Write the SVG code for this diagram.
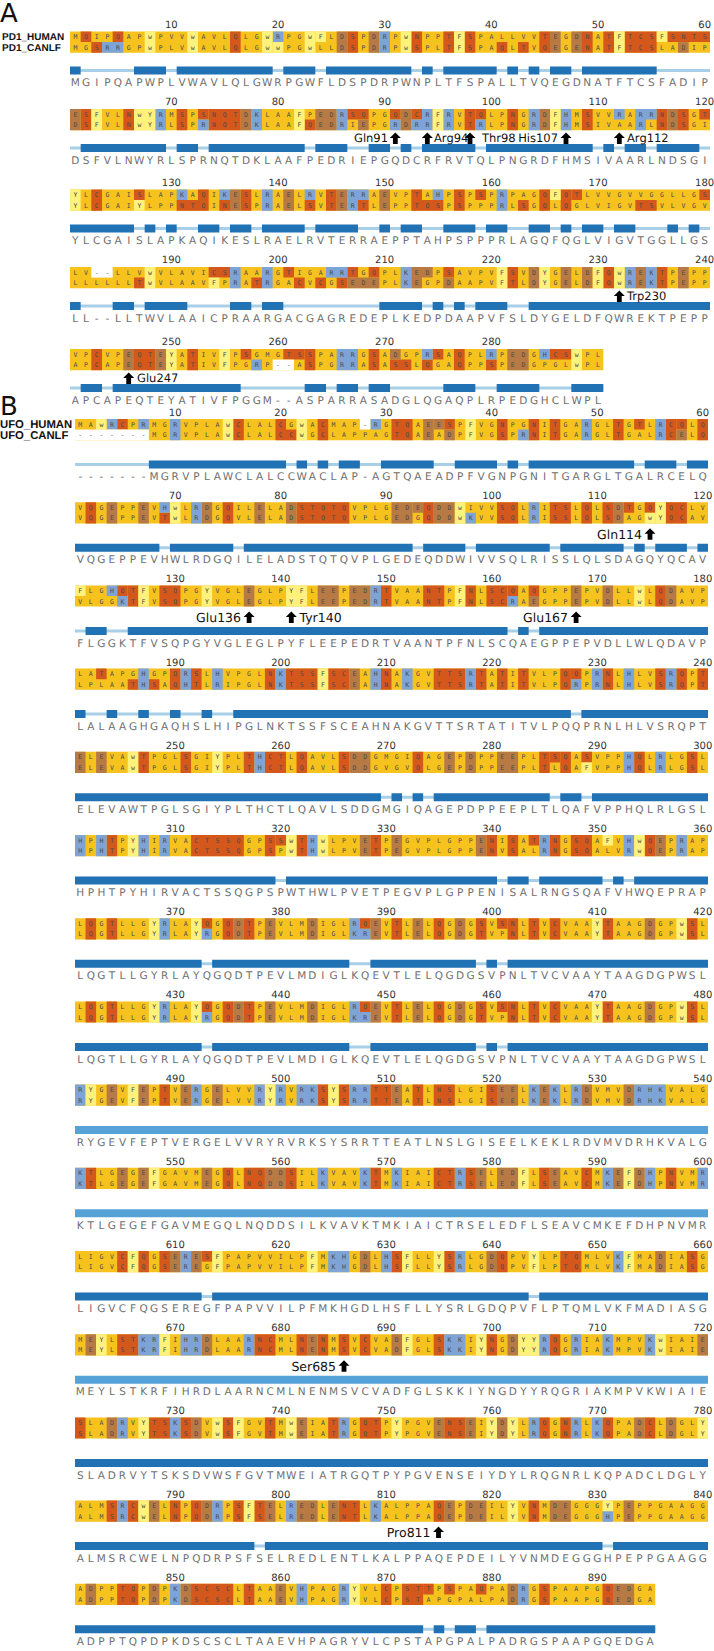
<svg xmlns="http://www.w3.org/2000/svg" xmlns:xlink="http://www.w3.org/1999/xlink" width="714" height="1651" viewBox="0 0 714 1651">
<style>
text{text-rendering:geometricPrecision}
.n{font:10px "DejaVu Sans",sans-serif;fill:#333;text-anchor:middle}
.sa{font:6.5px "DejaVu Sans Mono",monospace;fill:#4a4a4a;letter-spacing:6.7534px}
.sb{font:6.5px "DejaVu Sans Mono",monospace;fill:#4a4a4a;letter-spacing:6.6367px}
.c{font:10.5px "DejaVu Sans",sans-serif;fill:#707070;text-anchor:middle}
.nm{font:bold 10px "Liberation Sans",sans-serif;fill:#111}
.nmb{font:bold 11.3px "Liberation Sans",sans-serif;fill:#111}
.lb{font:11.5px "DejaVu Sans",sans-serif;fill:#111}
.lbb{font:12.5px "DejaVu Sans",sans-serif;fill:#111}
.e{text-anchor:end}
.big{font:26px "DejaVu Sans",sans-serif;fill:#111}
.r path{stroke-width:10.6}
.r .d{stroke-width:21.2}
.g{stroke:#F6C31E}.y{stroke:#FFF27C}.o{stroke:#D4581C}.b{stroke:#B77A45}.u{stroke:#7EA3D6}.w{stroke:#fff}
.lt{stroke:#A8CFE8;stroke-width:3}
.dk{stroke:#2171B5;stroke-width:8}
.md{stroke:#55A2D8;stroke-width:8}
.ar{fill:#000}
</style>
<defs><path id="ar" class="ar" d="M0 0L5.5 5.5H2.4V11.5H-2.4V5.5H-5.5Z"/></defs>
<rect width="714" height="1651" fill="#fff"/>
<text class="big" x="0" y="22">A</text>
<text class="big" x="0" y="415">B</text>

<g id="A1" transform="translate(70,31.5)">
<text class="nm" x="-68" y="8.9">PD1_HUMAN</text><text class="nm" x="-68" y="19.5">PD1_CANLF</text>
<g class="r" transform="scale(10.6667,1)">
<path class="g d" d="M0 10.6h60"/>
<path class="o d" d="M15 10.6h1M26 10.6h1M32 10.6h1M35 10.6h1M37 10.6h1M44 10.6h1M48 10.6h1M50 10.6h1M52 10.6h3"/>
<path class="o" d="M1 5.3h1M4 5.3h1M56 5.3h4M2 15.9h1M40 15.9h1M42 15.9h1"/>
<path class="b d" d="M25 10.6h1M28 10.6h1M45 10.6h1M47 10.6h1"/><path class="b" d="M57 15.9h1"/>
<path class="u" d="M19 5.3h1M3 15.9h2"/><path class="u d" d="M29 10.6h1"/>
<path class="y d" d="M7 10.6h1M11 10.6h1M18 10.6h1M22 10.6h1M31 10.6h1M36 10.6h1M51 10.6h1"/><path class="y" d="M23 5.3h1M55 5.3h1M19 15.9h1"/>
</g>
<g transform="scale(10.6667,1)"><path class="lt" d="M0 39h60"/><path class="dk" d="M0 39h1M6 39h3M10 39h9M20 39h3M24 39h8M33 39h1M35 39h5M41 39h1M43 39h1M45 39h2M48 39h7"/></g>
<text class="sa" x="3.377" y="7.7">MQIPQAPwPVVwAVLQLGwRPGwFLDSPDRPwNPPTFSPALLVVTEGDNATFTCSFSNTS</text>
<text class="sa" x="3.377" y="18.3">MGSRRGPwPLVwAVLQLGwwPGwLLDSPDRPwSPLTFSPAQLTVQEGENATFTCSLADIP</text>
<text class="c" x="5.3 16 26.7 37.3 48 58.7 69.3 80 90.7 101.3 112 122.7 133.3 144 154.7 165.3 176 186.7 197.3 208 218.7 229.3 240 250.7 261.3 272 282.7 293.3 304 314.7 325.3 336 346.7 357.3 368 378.7 389.3 400 410.7 421.3 432 442.7 453.3 464 474.7 485.3 496 506.7 517.3 528 538.7 549.3 560 570.7 581.3 592 602.7 613.3 624 634.7" y="54.8">MGIPQAPWPLVWAVLQLGWRPGWFLDSPDRPWNPLTFSPALLTVQEGDNATFTCSFADIP</text>
<text class="n" y="-3.8"><tspan x="101.33">10</tspan><tspan x="208">20</tspan><tspan x="314.67">30</tspan><tspan x="421.33">40</tspan><tspan x="528">50</tspan><tspan x="634.67">60</tspan></text>
</g>

<g id="A2" transform="translate(70,109)">
<g class="r" transform="scale(10.6667,1)">
<path class="g d" d="M0 10.6h60"/>
<path class="o d" d="M1 10.6h1M5 10.6h1M10 10.6h1M13 10.6h3M37 10.6h1M41 10.6h1M48 10.6h1M55 10.6h1M57 10.6h1"/>
<path class="o" d="M12 5.3h1M26 5.3h2M30 5.3h1M32 5.3h1M38 5.3h1M59 5.3h1M22 15.9h1"/>
<path class="b d" d="M0 10.6h1M16 10.6h1M23 10.6h2M31 10.6h1M44 10.6h1M56 10.6h1"/><path class="b" d="M27 15.9h1"/>
<path class="u d" d="M8 10.6h1M17 10.6h1M25 10.6h1M33 10.6h1M35 10.6h1M43 10.6h1M46 10.6h1M53 10.6h1"/>
<path class="u" d="M51 5.3h1M54 5.3h1M12 15.9h1M30 15.9h1M32 15.9h1M38 15.9h1"/>
<path class="y d" d="M2 10.6h1M6 10.6h2M21 10.6h1M34 10.6h1M45 10.6h1"/>
</g>
<g transform="scale(10.6667,1)"><path class="lt" d="M0 39h60"/><path class="dk" d="M1 39h8M10 39h2M13 39h9M23 39h3M28 39h2M31 39h1M33 39h5M39 39h10M50 39h1M52 39h2M55 39h4"/></g>
<text class="sa" x="3.377" y="7.7">ESFVLNwYRMSPSNQTDKLAAFPEDRSQPGQDCRFRVTQLPNGRDFHMSVVRARRNDSGT</text>
<text class="sa" x="3.377" y="18.3">DSFVLNwYRLSPRNQTDKLAAFQEDRIEPGRDRRFRVTRLPNGRDFHMSIVAARLNDSGI</text>
<text class="c" x="5.3 16 26.7 37.3 48 58.7 69.3 80 90.7 101.3 112 122.7 133.3 144 154.7 165.3 176 186.7 197.3 208 218.7 229.3 240 250.7 261.3 272 282.7 293.3 304 314.7 325.3 336 346.7 357.3 368 378.7 389.3 400 410.7 421.3 432 442.7 453.3 464 474.7 485.3 496 506.7 517.3 528 538.7 549.3 560 570.7 581.3 592 602.7 613.3 624 634.7" y="54.8">DSFVLNWYRLSPRNQTDKLAAFPEDRIEPGQDCRFRVTQLPNGRDFHMSIVAARLNDSGI</text>
<text class="n" y="-3.8"><tspan x="101.33">70</tspan><tspan x="208">80</tspan><tspan x="314.67">90</tspan><tspan x="421.33">100</tspan><tspan x="528">110</tspan><tspan x="634.67">120</tspan></text>
</g>

<g id="A3" transform="translate(70,189.5)">
<g class="r" transform="scale(10.6667,1)">
<path class="g d" d="M0 10.6h60"/>
<path class="o d" d="M2 10.6h1M12 10.6h1M16 10.6h1M24 10.6h1M32 10.6h1M36 10.6h1M44 10.6h1M46 10.6h1"/>
<path class="o" d="M6 5.3h1M38 5.3h1M47 5.3h1M59 5.3h1M10 15.9h2M14 15.9h1M22 15.9h1M27 15.9h1M33 15.9h2M42 15.9h1M53 15.9h2"/>
<path class="b d" d="M15 10.6h1M20 10.6h1M25 10.6h1M29 10.6h1"/>
<path class="u d" d="M18 10.6h1M26 10.6h1M40 10.6h1"/><path class="u" d="M10 5.3h1M14 5.3h1M22 5.3h1M27 5.3h1M34 5.3h1"/>
<path class="y d" d="M0 10.6h1"/><path class="y" d="M45 5.3h1M6 15.9h1"/>
</g>
<g transform="scale(10.6667,1)"><path class="lt" d="M0 39h60"/><path class="dk" d="M0 39h6M7 39h1M9 39h1M12 39h2M15 39h2M18 39h4M23 39h4M29 39h1M31 39h2M35 39h3M39 39h2M43 39h2M46 39h1M48 39h2M51 39h2M56 39h1M58 39h1"/></g>
<text class="sa" x="3.377" y="7.7">YLCGAISLAPKAQIKESLRAELRVTERRAEVPTAHPSPSPRPAGQFQTLVVGVVGGLLGS</text>
<text class="sa" x="3.377" y="18.3">YLCGAIYLPPNTQINESPRAELSVTERTLEPPTQSPSPPPRLSGQLQGLVIGVTSVLVGV</text>
<text class="c" x="5.3 16 26.7 37.3 48 58.7 69.3 80 90.7 101.3 112 122.7 133.3 144 154.7 165.3 176 186.7 197.3 208 218.7 229.3 240 250.7 261.3 272 282.7 293.3 304 314.7 325.3 336 346.7 357.3 368 378.7 389.3 400 410.7 421.3 432 442.7 453.3 464 474.7 485.3 496 506.7 517.3 528 538.7 549.3 560 570.7 581.3 592 602.7 613.3 624 634.7" y="54.8">YLCGAISLAPKAQIKESLRAELRVTERRAEPPTAHPSPPPRLAGQFQGLVIGVTGGLLGS</text>
<text class="n" y="-3.8"><tspan x="101.33">130</tspan><tspan x="208">140</tspan><tspan x="314.67">150</tspan><tspan x="421.33">160</tspan><tspan x="528">170</tspan><tspan x="634.67">180</tspan></text>
</g>

<g id="A4" transform="translate(70,267)">
<g class="r" transform="scale(10.6667,1)">
<path class="g d" d="M0 10.6h60"/>
<path class="o d" d="M41 10.6h1M50 10.6h1M55 10.6h1"/>
<path class="o" d="M13 5.3h2M20 5.3h1M26 5.3h1M28 5.3h1M35 5.3h1M6 15.9h1M17 15.9h1M21 15.9h1M23 15.9h1M25 15.9h1"/>
<path class="b d" d="M32 10.6h1M43 10.6h1M46 10.6h1M48 10.6h1M53 10.6h1M57 10.6h1"/><path class="b" d="M33 5.3h1M26 15.9h3M35 15.9h1"/>
<path class="u d" d="M15 10.6h1M18 10.6h1M31 10.6h1M52 10.6h1M54 10.6h1"/><path class="u" d="M24 5.3h2"/>
<path class="y d" d="M7 10.6h1M40 10.6h1M44 10.6h1M49 10.6h1M51 10.6h1"/><path class="y" d="M13 15.9h1"/>
<path class="w" d="M2 5.3h2"/>
</g>
<g transform="scale(10.6667,1)"><path class="lt" d="M0 39h60"/><path class="dk" d="M0 39h1M4 39h2M7 39h4M15 39h2M18 39h2M29 39h4M34 39h1M36 39h1M38 39h3M43 39h17"/></g>
<text class="sa" x="3.377" y="7.7">LV--LLVwVLAVICSRAARGTIGARRTGQPLKEDPSAVPVFSVDYGELDFQwREKTPEPP</text>
<text class="sa" x="3.377" y="18.3">LLLLLLTwVLAAVFPRATRGACVCGSEDEPLKEGPDAAPVFTLDYGELDFQwREKTPEPP</text>
<text class="c" x="5.3 16 26.7 37.3 48 58.7 69.3 80 90.7 101.3 112 122.7 133.3 144 154.7 165.3 176 186.7 197.3 208 218.7 229.3 240 250.7 261.3 272 282.7 293.3 304 314.7 325.3 336 346.7 357.3 368 378.7 389.3 400 410.7 421.3 432 442.7 453.3 464 474.7 485.3 496 506.7 517.3 528 538.7 549.3 560 570.7 581.3 592 602.7 613.3 624 634.7" y="54.8">LL--LLTWVLAAICPRAARGACGAGREDEPLKEDPDAAPVFSLDYGELDFQWREKTPEPP</text>
<text class="n" y="-3.8"><tspan x="101.33">190</tspan><tspan x="208">200</tspan><tspan x="314.67">210</tspan><tspan x="421.33">220</tspan><tspan x="528">230</tspan><tspan x="634.67">240</tspan></text>
</g>

<g id="A5" transform="translate(70,349)">
<g class="r" transform="scale(10.6667,1)">
<path class="g d" d="M0 10.6h50"/>
<path class="o d" d="M2 10.6h1M6 10.6h2M11 10.6h1M22 10.6h1M28 10.6h1M36 10.6h1"/>
<path class="o" d="M16 5.3h1M20 5.3h2M34 5.3h1M45 5.3h2M30 15.9h2M33 15.9h1M39 15.9h1"/>
<path class="b d" d="M5 10.6h1M8 10.6h1M41 10.6h2"/><path class="b" d="M30 5.3h1"/>
<path class="u d" d="M25 10.6h2"/><path class="u" d="M33 5.3h1M39 5.3h1M44 5.3h1M17 15.9h1"/>
<path class="y d" d="M9 10.6h1M14 10.6h1M47 10.6h1"/>
<path class="w" d="M19 15.9h2"/>
</g>
<g transform="scale(10.6667,1)"><path class="lt" d="M0 39h50"/><path class="dk" d="M1 39h2M4 39h12M22 39h2M25 39h2M28 39h2M35 39h3M40 39h4M47 39h3"/></g>
<text class="sa" x="3.377" y="7.7">VPCVPEQTEYATIVFPSGMGTSSPARRGSADGPRSAQPLRPEDGHCSwPL</text>
<text class="sa" x="3.377" y="18.3">APCAPEQTEYATIVFPGRP--ASPGRRASASSLQGAQPPSPEDGPGLwPL</text>
<text class="c" x="5.3 16 26.7 37.3 48 58.7 69.3 80 90.7 101.3 112 122.7 133.3 144 154.7 165.3 176 186.7 197.3 208 218.7 229.3 240 250.7 261.3 272 282.7 293.3 304 314.7 325.3 336 346.7 357.3 368 378.7 389.3 400 410.7 421.3 432 442.7 453.3 464 474.7 485.3 496 506.7 517.3 528" y="54.8">APCAPEQTEYATIVFPGGM--ASPARRASADGLQGAQPLRPEDGHCLWPL</text>
<text class="n" y="-3.8"><tspan x="101.33">250</tspan><tspan x="208">260</tspan><tspan x="314.67">270</tspan><tspan x="421.33">280</tspan></text>
</g>

<g id="B1" transform="translate(75,419)">
<text class="nmb" x="-75" y="9.3">UFO_HUMAN</text><text class="nmb" x="-75" y="19.9">UFO_CANLF</text>
<g class="r" transform="scale(10.55,1)">
<path class="g d" d="M0 10.6h60"/>
<path class="o d" d="M15 10.6h1M19 10.6h1M23 10.6h1M30 10.6h2M40 10.6h1M43 10.6h1M45 10.6h1M51 10.6h1M56 10.6h1M59 10.6h1"/>
<path class="o" d="M4 5.3h1M35 5.3h1M53 5.3h1M57 5.3h1M20 15.9h1"/>
<path class="b d" d="M33 10.6h1"/><path class="b" d="M34 5.3h1M35 15.9h1M57 15.9h1"/>
<path class="u d" d="M9 10.6h1M48 10.6h1M55 10.6h1"/><path class="u" d="M3 5.3h1M6 5.3h1M28 5.3h1M42 15.9h1"/>
<path class="y d" d="M14 10.6h1M21 10.6h1M37 10.6h1"/><path class="y" d="M2 5.3h1"/>
<path class="w" d="M27 5.3h1M0 15.9h7"/>
</g>
<g transform="scale(10.55,1)"><path class="lt" d="M0 45.5h60"/><path class="dk" d="M7 45.5h13M21 45.5h1M23 45.5h1M25 45.5h2M29 45.5h5M36 45.5h4M41 45.5h1M43 45.5h10M54 45.5h3M58 45.5h2"/></g>
<text class="sb" x="3.318" y="7.7">MAwRCPRMGRVPLAwCLALCGwACMAP-RGTQAEESPFVGNPGNITGARGLTGTLRCQLQ</text>
<text class="sb" x="3.318" y="18.3">-------MGRVPLAwCLALCCwGCLAPPAGTQAEADPFVGSPRNITGARGLTGALRCELQ</text>
<text class="c" x="5.3 15.8 26.4 36.9 47.5 58 68.6 79.1 89.7 100.2 110.8 121.3 131.9 142.4 153 163.5 174.1 184.6 195.2 205.7 216.3 226.8 237.4 247.9 258.5 269 279.6 290.1 300.7 311.2 321.8 332.3 342.9 353.4 364 374.5 385.1 395.6 406.2 416.7 427.3 437.8 448.4 458.9 469.5 480 490.6 501.1 511.7 522.2 532.8 543.3 553.9 564.4 575 585.5 596.1 606.6 617.2 627.7" y="61.3">-------MGRVPLAWCLALCCWACLAP-AGTQAEADPFVGNPGNITGARGLTGALRCELQ</text>
<text class="n" y="-3"><tspan x="100.23">10</tspan><tspan x="205.73">20</tspan><tspan x="311.23">30</tspan><tspan x="416.73">40</tspan><tspan x="522.23">50</tspan><tspan x="627.73">60</tspan></text>
</g>

<g id="B2" transform="translate(75,502.2)">
<g class="r" transform="scale(10.55,1)">
<path class="g d" d="M0 10.6h60"/>
<path class="o d" d="M1 10.6h1M14 10.6h1M21 10.6h5M33 10.6h1M40 10.6h2M45 10.6h2M48 10.6h1M50 10.6h1M56 10.6h2"/>
<path class="o" d="M52 5.3h1M54 5.3h1M8 15.9h1"/>
<path class="b d" d="M3 10.6h1M6 10.6h1M12 10.6h1M17 10.6h1M20 10.6h1M30 10.6h2M34 10.6h2M51 10.6h1"/><path class="b" d="M32 5.3h1"/>
<path class="u d" d="M11 10.6h1M43 10.6h1"/><path class="u" d="M8 5.3h1M37 15.9h1"/>
<path class="y d" d="M9 10.6h1M36 10.6h1M55 10.6h1"/><path class="y" d="M54 15.9h1"/>
</g>
<g transform="scale(10.55,1)"><path class="lt" d="M0 45.5h60"/><path class="dk" d="M0 45.5h8M9 45.5h6M16 45.5h16M33 45.5h4M38 45.5h7M46 45.5h6M53 45.5h1M55 45.5h3M59 45.5h1"/></g>
<text class="sb" x="3.318" y="7.7">VQGEPPEVHwLRDGQILELADSTQTQVPLGEDEQDDwIVVSQLRITSLQLSDTGQYQCLV</text>
<text class="sb" x="3.318" y="18.3">VQGEPPEVTwLRDGQVLELADSTQTQVPLGEDGQDDwKVVSQLRISSLQLSDAGwYQCAV</text>
<text class="c" x="5.3 15.8 26.4 36.9 47.5 58 68.6 79.1 89.7 100.2 110.8 121.3 131.9 142.4 153 163.5 174.1 184.6 195.2 205.7 216.3 226.8 237.4 247.9 258.5 269 279.6 290.1 300.7 311.2 321.8 332.3 342.9 353.4 364 374.5 385.1 395.6 406.2 416.7 427.3 437.8 448.4 458.9 469.5 480 490.6 501.1 511.7 522.2 532.8 543.3 553.9 564.4 575 585.5 596.1 606.6 617.2 627.7" y="61.3">VQGEPPEVHWLRDGQILELADSTQTQVPLGEDEQDDWIVVSQLRISSLQLSDAGQYQCAV</text>
<text class="n" y="-3"><tspan x="100.23">70</tspan><tspan x="205.73">80</tspan><tspan x="311.23">90</tspan><tspan x="416.73">100</tspan><tspan x="522.23">110</tspan><tspan x="627.73">120</tspan></text>
</g>

<g id="B3" transform="translate(75,585.4)">
<g class="r" transform="scale(10.55,1)">
<path class="g d" d="M0 10.6h60"/>
<path class="o d" d="M5 10.6h1M8 10.6h2M29 10.6h1M33 10.6h2M37 10.6h1M39 10.6h2M55 10.6h1"/>
<path class="o" d="M4 5.3h1M41 5.3h1M43 5.3h1"/>
<path class="b d" d="M16 10.6h1M23 10.6h2M26 10.6h2M47 10.6h1M50 10.6h1M56 10.6h1"/><path class="b" d="M43 15.9h1"/>
<path class="u d" d="M28 10.6h1"/><path class="u" d="M3 5.3h1M4 15.9h1M41 15.9h1"/>
<path class="y d" d="M6 10.6h1M12 10.6h1M20 10.6h2M36 10.6h1M53 10.6h1"/><path class="y" d="M0 5.3h1"/>
</g>
<g transform="scale(10.55,1)"><path class="lt" d="M0 45.5h60"/><path class="dk" d="M1 45.5h2M5 45.5h36M42 45.5h1M44 45.5h16"/></g>
<text class="sb" x="3.318" y="7.7">FLGHQTFVSQPGYVGLEGLPYFLEEPEDRTVAANTPFNLSCQAQGPPEPVDLLwLQDAVP</text>
<text class="sb" x="3.318" y="18.3">VLGGKTFVSQPGYVGLEGLPYFLEEPEDRTVAANTPFNLSCRAEGPPEPVDLLwLQDAVP</text>
<text class="c" x="5.3 15.8 26.4 36.9 47.5 58 68.6 79.1 89.7 100.2 110.8 121.3 131.9 142.4 153 163.5 174.1 184.6 195.2 205.7 216.3 226.8 237.4 247.9 258.5 269 279.6 290.1 300.7 311.2 321.8 332.3 342.9 353.4 364 374.5 385.1 395.6 406.2 416.7 427.3 437.8 448.4 458.9 469.5 480 490.6 501.1 511.7 522.2 532.8 543.3 553.9 564.4 575 585.5 596.1 606.6 617.2 627.7" y="61.3">FLGGKTFVSQPGYVGLEGLPYFLEEPEDRTVAANTPFNLSCQAEGPPEPVDLLWLQDAVP</text>
<text class="n" y="-3"><tspan x="100.23">130</tspan><tspan x="205.73">140</tspan><tspan x="311.23">150</tspan><tspan x="416.73">160</tspan><tspan x="522.23">170</tspan><tspan x="627.73">180</tspan></text>
</g>

<g id="B4" transform="translate(75,668.6)">
<g class="r" transform="scale(10.55,1)">
<path class="g d" d="M0 10.6h60"/>
<path class="o d" d="M9 10.6h1M11 10.6h1M18 10.6h1M20 10.6h3M24 10.6h2M29 10.6h1M34 10.6h3M38 10.6h1M40 10.6h1M42 10.6h1M46 10.6h1M50 10.6h1M55 10.6h1M57 10.6h1M59 10.6h1"/>
<path class="o" d="M2 5.3h1M47 5.3h1M5 15.9h1M7 15.9h1"/>
<path class="b d" d="M26 10.6h1"/>
<path class="u d" d="M6 10.6h1M10 10.6h1M13 10.6h1M19 10.6h1M28 10.6h1M31 10.6h1M37 10.6h1M49 10.6h1M52 10.6h1M56 10.6h1"/><path class="u" d="M47 15.9h1"/>
<path class="y d" d="M23 10.6h1"/>
</g>
<g transform="scale(10.55,1)"><path class="lt" d="M0 45.5h60"/><path class="dk" d="M0 45.5h1M3 45.5h1M6 45.5h1M9 45.5h1M12 45.5h1M15 45.5h32M48 45.5h12"/></g>
<text class="sb" x="3.318" y="7.7">LATAPGHGPQRSLHVPGLNKTSSFSCEAHNAKGVTTSRTATITVLPQQPRNLHLVSRQPT</text>
<text class="sb" x="3.318" y="18.3">LPLAATHSAQHTLRIPGLNKTSSFSCEAHNAKGVTTSRTATITVLPQRPRNLHLVSRQPT</text>
<text class="c" x="5.3 15.8 26.4 36.9 47.5 58 68.6 79.1 89.7 100.2 110.8 121.3 131.9 142.4 153 163.5 174.1 184.6 195.2 205.7 216.3 226.8 237.4 247.9 258.5 269 279.6 290.1 300.7 311.2 321.8 332.3 342.9 353.4 364 374.5 385.1 395.6 406.2 416.7 427.3 437.8 448.4 458.9 469.5 480 490.6 501.1 511.7 522.2 532.8 543.3 553.9 564.4 575 585.5 596.1 606.6 617.2 627.7" y="61.3">LALAAGHGAQHSLHIPGLNKTSSFSCEAHNAKGVTTSRTATITVLPQQPRNLHLVSRQPT</text>
<text class="n" y="-3"><tspan x="100.23">190</tspan><tspan x="205.73">200</tspan><tspan x="311.23">210</tspan><tspan x="416.73">220</tspan><tspan x="522.23">230</tspan><tspan x="627.73">240</tspan></text>
</g>

<g id="B5" transform="translate(75,751.8)">
<g class="r" transform="scale(10.55,1)">
<path class="g d" d="M0 10.6h60"/>
<path class="o d" d="M6 10.6h1M10 10.6h1M16 10.6h1M18 10.6h2M21 10.6h1M25 10.6h1M32 10.6h1M44 10.6h1M46 10.6h1M53 10.6h1M58 10.6h1"/>
<path class="o" d="M45 5.3h1M48 5.3h1"/>
<path class="b d" d="M0 10.6h1M2 10.6h1M26 10.6h2M35 10.6h1M37 10.6h1M40 10.6h2"/>
<path class="u d" d="M17 10.6h1M52 10.6h1M55 10.6h1"/>
<path class="y d" d="M5 10.6h1M13 10.6h1"/><path class="y" d="M48 15.9h1"/>
</g>
<g transform="scale(10.55,1)"><path class="lt" d="M0 45.5h60"/><path class="dk" d="M0 45.5h29M30 45.5h1M32 45.5h1M34 45.5h11M46 45.5h2M49 45.5h11"/></g>
<text class="sb" x="3.318" y="7.7">ELEVAwTPGLSGIYPLTHCTLQAVLSDDGMGIQAGEPDPPEEPLTSQASVPPHQLRLGSL</text>
<text class="sb" x="3.318" y="18.3">ELEVAwTPGLSGIYPLTHCTLQAVLSDDGVGVQLGEPDPPEEPLTLQAFVPPHQLRLGSL</text>
<text class="c" x="5.3 15.8 26.4 36.9 47.5 58 68.6 79.1 89.7 100.2 110.8 121.3 131.9 142.4 153 163.5 174.1 184.6 195.2 205.7 216.3 226.8 237.4 247.9 258.5 269 279.6 290.1 300.7 311.2 321.8 332.3 342.9 353.4 364 374.5 385.1 395.6 406.2 416.7 427.3 437.8 448.4 458.9 469.5 480 490.6 501.1 511.7 522.2 532.8 543.3 553.9 564.4 575 585.5 596.1 606.6 617.2 627.7" y="61.3">ELEVAWTPGLSGIYPLTHCTLQAVLSDDGMGIQAGEPDPPEEPLTLQAFVPPHQLRLGSL</text>
<text class="n" y="-3"><tspan x="100.23">250</tspan><tspan x="205.73">260</tspan><tspan x="311.23">270</tspan><tspan x="416.73">280</tspan><tspan x="522.23">290</tspan><tspan x="627.73">300</tspan></text>
</g>

<g id="B6" transform="translate(75,835)">
<g class="r" transform="scale(10.55,1)">
<path class="g d" d="M0 10.6h60"/>
<path class="o d" d="M3 10.6h1M11 10.6h5M18 10.6h1M21 10.6h1M28 10.6h1M39 10.6h1M41 10.6h1M45 10.6h1M47 10.6h2M54 10.6h1"/>
<path class="o" d="M19 5.3h1M43 5.3h1"/>
<path class="b d" d="M27 10.6h1M30 10.6h1M38 10.6h1M55 10.6h1"/>
<path class="u d" d="M0 10.6h1M2 10.6h1M6 10.6h1M8 10.6h1M22 10.6h1M44 10.6h1M52 10.6h1M57 10.6h1"/>
<path class="y d" d="M5 10.6h1M20 10.6h1M23 10.6h1M53 10.6h1"/><path class="y" d="M50 5.3h1"/>
</g>
<g transform="scale(10.55,1)"><path class="lt" d="M0 45.5h60"/><path class="dk" d="M0 45.5h19M20 45.5h20M41 45.5h2M44 45.5h6M51 45.5h1M53 45.5h7"/></g>
<text class="sb" x="3.318" y="7.7">HPHTPYHIRVACTSSQGPSSwTHwLPVETPEGVPLGPPENISATRNGSQAFVHwQEPRAP</text>
<text class="sb" x="3.318" y="18.3">HPHTPYHIRVACTSSQGPSPwTHwLPVETPEGVPLGPPENVSALRNGSQALVRwQEPRAP</text>
<text class="c" x="5.3 15.8 26.4 36.9 47.5 58 68.6 79.1 89.7 100.2 110.8 121.3 131.9 142.4 153 163.5 174.1 184.6 195.2 205.7 216.3 226.8 237.4 247.9 258.5 269 279.6 290.1 300.7 311.2 321.8 332.3 342.9 353.4 364 374.5 385.1 395.6 406.2 416.7 427.3 437.8 448.4 458.9 469.5 480 490.6 501.1 511.7 522.2 532.8 543.3 553.9 564.4 575 585.5 596.1 606.6 617.2 627.7" y="61.3">HPHTPYHIRVACTSSQGPSPWTHWLPVETPEGVPLGPPENISALRNGSQAFVHWQEPRAP</text>
<text class="n" y="-3"><tspan x="100.23">310</tspan><tspan x="205.73">320</tspan><tspan x="311.23">330</tspan><tspan x="416.73">340</tspan><tspan x="522.23">350</tspan><tspan x="627.73">360</tspan></text>
</g>

<g id="B7" transform="translate(75,918.2)">
<g class="r" transform="scale(10.55,1)">
<path class="g d" d="M0 10.6h60"/>
<path class="o d" d="M1 10.6h1M3 10.6h1M14 10.6h1M16 10.6h1M30 10.6h1M34 10.6h1M38 10.6h1M41 10.6h1M43 10.6h1M45 10.6h1M50 10.6h1M58 10.6h1"/>
<path class="o" d="M12 5.3h1M27 5.3h1M40 5.3h1"/>
<path class="b d" d="M15 10.6h1M18 10.6h1M22 10.6h1M28 10.6h1M32 10.6h1M36 10.6h1M54 10.6h1"/>
<path class="u d" d="M8 10.6h1M26 10.6h1"/><path class="u" d="M12 15.9h1M27 15.9h1"/>
<path class="y d" d="M7 10.6h1M11 10.6h1M49 10.6h1M57 10.6h1"/>
</g>
<g transform="scale(10.55,1)"><path class="lt" d="M0 45.5h60"/><path class="dk" d="M0 45.5h12M13 45.5h13M28 45.5h10M39 45.5h1M41 45.5h19"/></g>
<text class="sb" x="3.318" y="7.7">LQGTLLGYRLAYQGQDTPEVLMDIGLRQEVTLELQGDGSVSNLTVCVAAYTAAGDGPwSL</text>
<text class="sb" x="3.318" y="18.3">LQGTLLGYRLAYRGQDTPEVLMDIGLKREVTLELQGDGTVPNLTVCVAAYTAAGDGPwSL</text>
<text class="c" x="5.3 15.8 26.4 36.9 47.5 58 68.6 79.1 89.7 100.2 110.8 121.3 131.9 142.4 153 163.5 174.1 184.6 195.2 205.7 216.3 226.8 237.4 247.9 258.5 269 279.6 290.1 300.7 311.2 321.8 332.3 342.9 353.4 364 374.5 385.1 395.6 406.2 416.7 427.3 437.8 448.4 458.9 469.5 480 490.6 501.1 511.7 522.2 532.8 543.3 553.9 564.4 575 585.5 596.1 606.6 617.2 627.7" y="61.3">LQGTLLGYRLAYQGQDTPEVLMDIGLKQEVTLELQGDGSVPNLTVCVAAYTAAGDGPWSL</text>
<text class="n" y="-3"><tspan x="100.23">370</tspan><tspan x="205.73">380</tspan><tspan x="311.23">390</tspan><tspan x="416.73">400</tspan><tspan x="522.23">410</tspan><tspan x="627.73">420</tspan></text>
</g>

<g id="B8" transform="translate(75,1001.4)">
<g class="r" transform="scale(10.55,1)">
<path class="g d" d="M0 10.6h60"/>
<path class="o d" d="M1 10.6h1M3 10.6h1M14 10.6h1M16 10.6h1M30 10.6h1M34 10.6h1M38 10.6h1M41 10.6h1M43 10.6h1M45 10.6h1M50 10.6h1M58 10.6h1"/>
<path class="o" d="M12 5.3h1M27 5.3h1M40 5.3h1"/>
<path class="b d" d="M15 10.6h1M18 10.6h1M22 10.6h1M28 10.6h1M32 10.6h1M36 10.6h1M54 10.6h1"/>
<path class="u d" d="M8 10.6h1M26 10.6h1"/><path class="u" d="M12 15.9h1M27 15.9h1"/>
<path class="y d" d="M7 10.6h1M11 10.6h1M49 10.6h1M57 10.6h1"/>
</g>
<g transform="scale(10.55,1)"><path class="lt" d="M0 45.5h60"/><path class="dk" d="M0 45.5h12M13 45.5h13M28 45.5h10M39 45.5h1M41 45.5h19"/></g>
<text class="sb" x="3.318" y="7.7">LQGTLLGYRLAYQGQDTPEVLMDIGLRQEVTLELQGDGSVSNLTVCVAAYTAAGDGPwSL</text>
<text class="sb" x="3.318" y="18.3">LQGTLLGYRLAYRGQDTPEVLMDIGLKREVTLELQGDGTVPNLTVCVAAYTAAGDGPwSL</text>
<text class="c" x="5.3 15.8 26.4 36.9 47.5 58 68.6 79.1 89.7 100.2 110.8 121.3 131.9 142.4 153 163.5 174.1 184.6 195.2 205.7 216.3 226.8 237.4 247.9 258.5 269 279.6 290.1 300.7 311.2 321.8 332.3 342.9 353.4 364 374.5 385.1 395.6 406.2 416.7 427.3 437.8 448.4 458.9 469.5 480 490.6 501.1 511.7 522.2 532.8 543.3 553.9 564.4 575 585.5 596.1 606.6 617.2 627.7" y="61.3">LQGTLLGYRLAYQGQDTPEVLMDIGLKQEVTLELQGDGSVPNLTVCVAAYTAAGDGPWSL</text>
<text class="n" y="-3"><tspan x="100.23">430</tspan><tspan x="205.73">440</tspan><tspan x="311.23">450</tspan><tspan x="416.73">460</tspan><tspan x="522.23">470</tspan><tspan x="627.73">480</tspan></text>
</g>

<g id="B9" transform="translate(75,1084.6)">
<g class="r" transform="scale(10.55,1)">
<path class="g d" d="M0 10.6h60"/>
<path class="o d" d="M8 10.6h1M23 10.6h1M25 10.6h1M28 10.6h2M32 10.6h1M34 10.6h2M39 10.6h1"/>
<path class="b d" d="M3 10.6h1M6 10.6h1M10 10.6h1M13 10.6h1M30 10.6h1M40 10.6h2M44 10.6h1M48 10.6h1M52 10.6h1"/>
<path class="u d" d="M0 10.6h1M11 10.6h1M17 10.6h1M19 10.6h1M21 10.6h2M26 10.6h2M43 10.6h1M45 10.6h1M47 10.6h1M53 10.6h3"/>
<path class="y d" d="M1 10.6h1M5 10.6h1M18 10.6h1M24 10.6h1"/>
</g>
<g transform="scale(10.55,1)"><path class="md" d="M0 45.5h60"/></g>
<text class="sb" x="3.318" y="7.7">RYGEVFEPTVERGELVVRYRVRKSYSRRTTEATLNSLGISEELKEKLRDVMVDRHKVALG</text>
<text class="sb" x="3.318" y="18.3">RYGEVFEPTVERGELVVRYRVRKSYSRRTTEATLNSLGISEELKEKLRDVMVDRHKVALG</text>
<text class="c" x="5.3 15.8 26.4 36.9 47.5 58 68.6 79.1 89.7 100.2 110.8 121.3 131.9 142.4 153 163.5 174.1 184.6 195.2 205.7 216.3 226.8 237.4 247.9 258.5 269 279.6 290.1 300.7 311.2 321.8 332.3 342.9 353.4 364 374.5 385.1 395.6 406.2 416.7 427.3 437.8 448.4 458.9 469.5 480 490.6 501.1 511.7 522.2 532.8 543.3 553.9 564.4 575 585.5 596.1 606.6 617.2 627.7" y="61.3">RYGEVFEPTVERGELVVRYRVRKSYSRRTTEATLNSLGISEELKEKLRDVMVDRHKVALG</text>
<text class="n" y="-3"><tspan x="100.23">490</tspan><tspan x="205.73">500</tspan><tspan x="311.23">510</tspan><tspan x="416.73">520</tspan><tspan x="522.23">530</tspan><tspan x="627.73">540</tspan></text>
</g>

<g id="B10" transform="translate(75,1167.8)">
<g class="r" transform="scale(10.55,1)">
<path class="g d" d="M0 10.6h60"/>
<path class="o d" d="M1 10.6h1M14 10.6h1M16 10.6h2M20 10.6h1M28 10.6h1M34 10.6h2M37 10.6h1M44 10.6h1M48 10.6h1M56 10.6h1"/>
<path class="b d" d="M4 10.6h1M6 10.6h1M12 10.6h1M18 10.6h2M38 10.6h1M40 10.6h2M45 10.6h1M51 10.6h1M53 10.6h1"/>
<path class="u d" d="M0 10.6h1M23 10.6h1M27 10.6h1M30 10.6h1M36 10.6h1M50 10.6h1M54 10.6h1M59 10.6h1"/>
<path class="y d" d="M7 10.6h1M42 10.6h1M52 10.6h1"/>
</g>
<g transform="scale(10.55,1)"><path class="md" d="M0 45.5h60"/></g>
<text class="sb" x="3.318" y="7.7">KTLGEGEFGAVMEGQLNQDDSILKVAVKTMKIAICTRSELEDFLSEAVCMKEFDHPNVMR</text>
<text class="sb" x="3.318" y="18.3">KTLGEGEFGAVMEGQLNQDDSILKVAVKTMKIAICTRSELEDFLSEAVCMKEFDHPNVMR</text>
<text class="c" x="5.3 15.8 26.4 36.9 47.5 58 68.6 79.1 89.7 100.2 110.8 121.3 131.9 142.4 153 163.5 174.1 184.6 195.2 205.7 216.3 226.8 237.4 247.9 258.5 269 279.6 290.1 300.7 311.2 321.8 332.3 342.9 353.4 364 374.5 385.1 395.6 406.2 416.7 427.3 437.8 448.4 458.9 469.5 480 490.6 501.1 511.7 522.2 532.8 543.3 553.9 564.4 575 585.5 596.1 606.6 617.2 627.7" y="61.3">KTLGEGEFGAVMEGQLNQDDSILKVAVKTMKIAICTRSELEDFLSEAVCMKEFDHPNVMR</text>
<text class="n" y="-3"><tspan x="100.23">550</tspan><tspan x="205.73">560</tspan><tspan x="311.23">570</tspan><tspan x="416.73">580</tspan><tspan x="522.23">590</tspan><tspan x="627.73">600</tspan></text>
</g>

<g id="B11" transform="translate(75,1251)">
<g class="r" transform="scale(10.55,1)">
<path class="g d" d="M0 10.6h60"/>
<path class="o d" d="M4 10.6h1M6 10.6h1M8 10.6h1M30 10.6h1M35 10.6h1M40 10.6h1M46 10.6h2M58 10.6h1"/><path class="o" d="M12 5.3h1"/>
<path class="b d" d="M9 10.6h1M11 10.6h1M27 10.6h1M39 10.6h1M55 10.6h1"/>
<path class="u d" d="M10 10.6h1M24 10.6h2M29 10.6h1M36 10.6h1M51 10.6h1"/>
<path class="y d" d="M5 10.6h1M13 10.6h1M22 10.6h1M31 10.6h1M34 10.6h1M43 10.6h1M52 10.6h1"/>
</g>
<g transform="scale(10.55,1)"><path class="lt" d="M0 45.5h60"/><path class="dk" d="M0 45.5h12M13 45.5h30M44 45.5h16"/></g>
<text class="sb" x="3.318" y="7.7">LIGVCFQGSERESFPAPVVILPFMKHGDLHSFLLYSRLGDQPVYLPTQMLVKFMADIASG</text>
<text class="sb" x="3.318" y="18.3">LIGVCFQGSEREGFPAPVVILPFMKHGDLHSFLLYSRLGDQPVFLPTQMLVKFMADIASG</text>
<text class="c" x="5.3 15.8 26.4 36.9 47.5 58 68.6 79.1 89.7 100.2 110.8 121.3 131.9 142.4 153 163.5 174.1 184.6 195.2 205.7 216.3 226.8 237.4 247.9 258.5 269 279.6 290.1 300.7 311.2 321.8 332.3 342.9 353.4 364 374.5 385.1 395.6 406.2 416.7 427.3 437.8 448.4 458.9 469.5 480 490.6 501.1 511.7 522.2 532.8 543.3 553.9 564.4 575 585.5 596.1 606.6 617.2 627.7" y="61.3">LIGVCFQGSEREGFPAPVVILPFMKHGDLHSFLLYSRLGDQPVFLPTQMLVKFMADIASG</text>
<text class="n" y="-3"><tspan x="100.23">610</tspan><tspan x="205.73">620</tspan><tspan x="311.23">630</tspan><tspan x="416.73">640</tspan><tspan x="522.23">650</tspan><tspan x="627.73">660</tspan></text>
</g>

<g id="B12" transform="translate(75,1334.2)">
<g class="r" transform="scale(10.55,1)">
<path class="g d" d="M0 10.6h60"/>
<path class="o d" d="M4 10.6h2M17 10.6h2M21 10.6h1M23 10.6h1M25 10.6h1M27 10.6h1M34 10.6h1M39 10.6h1M45 10.6h1"/>
<path class="b d" d="M1 10.6h1M12 10.6h1M22 10.6h1M30 10.6h1M41 10.6h1M59 10.6h1"/>
<path class="u d" d="M6 10.6h2M10 10.6h2M16 10.6h1M35 10.6h2M44 10.6h1M47 10.6h1M50 10.6h1M54 10.6h1"/>
<path class="y d" d="M2 10.6h1M8 10.6h1M31 10.6h1M38 10.6h1M42 10.6h2M55 10.6h1"/>
</g>
<g transform="scale(10.55,1)"><path class="md" d="M0 45.5h60"/></g>
<text class="sb" x="3.318" y="7.7">MEYLSTKRFIHRDLAARNCMLNENMSVCVADFGLSKKIYNGDYYRQGRIAKMPVKwIAIE</text>
<text class="sb" x="3.318" y="18.3">MEYLSTKRFIHRDLAARNCMLNENMSVCVADFGLSKKIYNGDYYRQGRIAKMPVKwIAIE</text>
<text class="c" x="5.3 15.8 26.4 36.9 47.5 58 68.6 79.1 89.7 100.2 110.8 121.3 131.9 142.4 153 163.5 174.1 184.6 195.2 205.7 216.3 226.8 237.4 247.9 258.5 269 279.6 290.1 300.7 311.2 321.8 332.3 342.9 353.4 364 374.5 385.1 395.6 406.2 416.7 427.3 437.8 448.4 458.9 469.5 480 490.6 501.1 511.7 522.2 532.8 543.3 553.9 564.4 575 585.5 596.1 606.6 617.2 627.7" y="61.3">MEYLSTKRFIHRDLAARNCMLNENMSVCVADFGLSKKIYNGDYYRQGRIAKMPVKWIAIE</text>
<text class="n" y="-3"><tspan x="100.23">670</tspan><tspan x="205.73">680</tspan><tspan x="311.23">690</tspan><tspan x="416.73">700</tspan><tspan x="522.23">710</tspan><tspan x="627.73">720</tspan></text>
</g>

<g id="B13" transform="translate(75,1417.4)">
<g class="r" transform="scale(10.55,1)">
<path class="g d" d="M0 10.6h60"/>
<path class="o d" d="M0 10.6h1M7 10.6h2M10 10.6h1M14 10.6h1M18 10.6h1M24 10.6h1M27 10.6h2M35 10.6h2M44 10.6h1M46 10.6h1M50 10.6h1M54 10.6h1"/>
<path class="b d" d="M3 10.6h1M11 10.6h1M21 10.6h1M34 10.6h1M37 10.6h1M40 10.6h1M53 10.6h1M56 10.6h1"/>
<path class="u d" d="M4 10.6h1M9 10.6h1M25 10.6h1M43 10.6h1M47 10.6h1M49 10.6h1"/>
<path class="y d" d="M6 10.6h1M13 10.6h1M15 10.6h1M20 10.6h1M30 10.6h1M39 10.6h1M41 10.6h1M59 10.6h1"/>
</g>
<g transform="scale(10.55,1)"><path class="lt" d="M0 45.5h60"/><path class="dk" d="M0 45.5h60"/></g>
<text class="sb" x="3.318" y="7.7">SLADRVYTSKSDVwSFGVTMwEIATRGQTPYPGVENSEIYDYLRQGNRLKQPADCLDGLY</text>
<text class="sb" x="3.318" y="18.3">SLADRVYTSKSDVwSFGVTMwEIATRGQTPYPGVENSEIYDYLRQGNRLKQPADCLDGLY</text>
<text class="c" x="5.3 15.8 26.4 36.9 47.5 58 68.6 79.1 89.7 100.2 110.8 121.3 131.9 142.4 153 163.5 174.1 184.6 195.2 205.7 216.3 226.8 237.4 247.9 258.5 269 279.6 290.1 300.7 311.2 321.8 332.3 342.9 353.4 364 374.5 385.1 395.6 406.2 416.7 427.3 437.8 448.4 458.9 469.5 480 490.6 501.1 511.7 522.2 532.8 543.3 553.9 564.4 575 585.5 596.1 606.6 617.2 627.7" y="61.3">SLADRVYTSKSDVWSFGVTMWEIATRGQTPYPGVENSEIYDYLRQGNRLKQPADCLDGLY</text>
<text class="n" y="-3"><tspan x="100.23">730</tspan><tspan x="205.73">740</tspan><tspan x="311.23">750</tspan><tspan x="416.73">760</tspan><tspan x="522.23">770</tspan><tspan x="627.73">780</tspan></text>
</g>

<g id="B14" transform="translate(75,1500.6)">
<g class="r" transform="scale(10.55,1)">
<path class="g d" d="M0 10.6h60"/>
<path class="o d" d="M3 10.6h1M5 10.6h1M9 10.6h1M11 10.6h1M15 10.6h1M17 10.6h1M25 10.6h2M34 10.6h1M43 10.6h1"/>
<path class="b d" d="M7 10.6h1M12 10.6h1M18 10.6h1M21 10.6h2M24 10.6h1M35 10.6h1M37 10.6h2M45 10.6h2M52 10.6h1"/>
<path class="u d" d="M4 10.6h1M13 10.6h1M20 10.6h1M28 10.6h1"/><path class="u" d="M50 15.9h1"/>
<path class="y d" d="M6 10.6h1M16 10.6h1M41 10.6h1"/><path class="y" d="M50 5.3h1"/>
</g>
<g transform="scale(10.55,1)"><path class="lt" d="M0 45.5h60"/><path class="dk" d="M0 45.5h17M18 45.5h32M51 45.5h9"/></g>
<text class="sb" x="3.318" y="7.7">ALMSRCwELNPQDRPSFTELREDLENTLKALPPAQEPDEILYVNMDEGGGYPEPPGAAGG</text>
<text class="sb" x="3.318" y="18.3">ALMSRCwELNPQDRPSFSELREDLENTLKALPPAQEPDEILYVNMDEGGGHPEPPGAAGG</text>
<text class="c" x="5.3 15.8 26.4 36.9 47.5 58 68.6 79.1 89.7 100.2 110.8 121.3 131.9 142.4 153 163.5 174.1 184.6 195.2 205.7 216.3 226.8 237.4 247.9 258.5 269 279.6 290.1 300.7 311.2 321.8 332.3 342.9 353.4 364 374.5 385.1 395.6 406.2 416.7 427.3 437.8 448.4 458.9 469.5 480 490.6 501.1 511.7 522.2 532.8 543.3 553.9 564.4 575 585.5 596.1 606.6 617.2 627.7" y="61.3">ALMSRCWELNPQDRPSFSELREDLENTLKALPPAQEPDEILYVNMDEGGGHPEPPGAAGG</text>
<text class="n" y="-3"><tspan x="100.23">790</tspan><tspan x="205.73">800</tspan><tspan x="311.23">810</tspan><tspan x="416.73">820</tspan><tspan x="522.23">830</tspan><tspan x="627.73">840</tspan></text>
</g>

<g id="B15" transform="translate(75,1583.8)">
<g class="r" transform="scale(10.55,1)">
<path class="g d" d="M0 10.6h55"/>
<path class="o d" d="M4 10.6h2M11 10.6h4M16 10.6h1M29 10.6h1M31 10.6h2M44 10.6h1M50 10.6h1"/><path class="o" d="M33 5.3h1M35 5.3h1M38 5.3h1"/>
<path class="b d" d="M1 10.6h1M7 10.6h1M10 10.6h1M19 10.6h1M41 10.6h1M51 10.6h2"/>
<path class="u d" d="M9 10.6h1M21 10.6h1M25 10.6h1M42 10.6h1"/>
<path class="y d" d="M26 10.6h1"/>
</g>
<g transform="scale(10.55,1)"><path class="lt" d="M0 45.5h55"/><path class="dk" d="M0 45.5h33M34 45.5h1M36 45.5h2M39 45.5h16"/></g>
<text class="sb" x="3.318" y="7.7">ADPPTQPDPKDSCSCLTAAEVHPAGRYVLCPSTTPSPAQPADRGSPAAPGQEDGA</text>
<text class="sb" x="3.318" y="18.3">ADPPTQPDPKDSCSCLTAAEVHPAGRYVLCPSTAPGPALPADRGSPAAPGQEDGA</text>
<text class="c" x="5.3 15.8 26.4 36.9 47.5 58 68.6 79.1 89.7 100.2 110.8 121.3 131.9 142.4 153 163.5 174.1 184.6 195.2 205.7 216.3 226.8 237.4 247.9 258.5 269 279.6 290.1 300.7 311.2 321.8 332.3 342.9 353.4 364 374.5 385.1 395.6 406.2 416.7 427.3 437.8 448.4 458.9 469.5 480 490.6 501.1 511.7 522.2 532.8 543.3 553.9 564.4 575 585.5" y="61.3">ADPPTQPDPKDSCSCLTAAEVHPAGRYVLCPSTAPGPALPADRGSPAAPGQEDGA</text>
<text class="n" y="-3"><tspan x="100.23">850</tspan><tspan x="205.73">860</tspan><tspan x="311.23">870</tspan><tspan x="416.73">880</tspan><tspan x="522.23">890</tspan></text>
</g>

<g id="labels">
<use href="#ar" x="395.33" y="132.5"/><text class="lb e" x="388" y="142">Gln91</text>
<use href="#ar" x="427.33" y="132.5"/><text class="lb" x="434" y="142">Arg94</text>
<use href="#ar" x="470" y="132.5"/><text class="lb" x="482" y="142">Thr98</text>
<use href="#ar" x="566" y="132.5"/><text class="lb e" x="558" y="142">His107</text>
<use href="#ar" x="619.33" y="132.5"/><text class="lb" x="627" y="142">Arg112</text>
<use href="#ar" x="619.33" y="290.5"/><text class="lb" x="627" y="300">Trp230</text>
<use href="#ar" x="128.67" y="372.5"/><text class="lb" x="137" y="382">Glu247</text>
<use href="#ar" x="650" y="528.2"/><text class="lbb e" x="642" y="538.9">Gln114</text>
<use href="#ar" x="249.1" y="611.4"/><text class="lbb e" x="241" y="622.1">Glu136</text>
<use href="#ar" x="291.3" y="611.4"/><text class="lbb" x="299.5" y="622.1">Tyr140</text>
<use href="#ar" x="576.1" y="611.4"/><text class="lbb e" x="568" y="622.1">Glu167</text>
<use href="#ar" x="344" y="1360.2"/><text class="lbb e" x="336" y="1370.9">Ser685</text>
<use href="#ar" x="438.5" y="1526.6"/><text class="lbb e" x="430.5" y="1537.3">Pro811</text>
</g>
</svg>
